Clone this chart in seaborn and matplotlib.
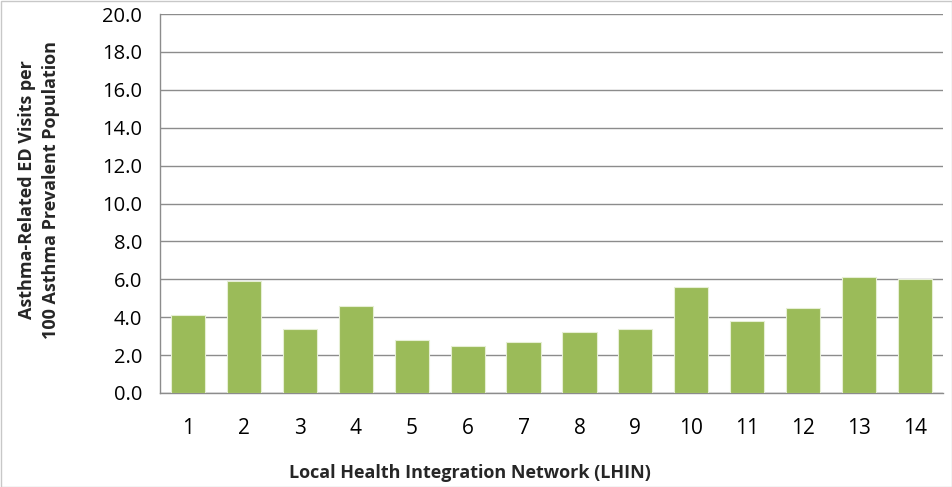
import matplotlib
matplotlib.use("Agg")
import matplotlib.pyplot as plt
import seaborn as sns
import pandas as pd
import numpy as np
from matplotlib.patches import Rectangle

lhin = [str(i) for i in range(1, 15)]
visits = [4.1, 5.9, 3.4, 4.6, 2.8, 2.5, 2.7, 3.2, 3.4, 5.6, 3.8, 4.5, 6.1, 6.0]
yticks = [0, 2, 4, 6, 8, 10, 12, 14, 16, 18, 20]

sns.set_theme(style="white")
plt.rcParams['font.family'] = ['Open Sans', 'DejaVu Sans']

df = pd.DataFrame({"LHIN": lhin, "Visits": visits})

fig = plt.figure(figsize=(9.53, 4.87), dpi=100)
ax = fig.add_axes([160/953, 1-393/487, (943-160)/953, (393-14)/487])

sns.barplot(data=df, x="LHIN", y="Visits", color="#9BBB59", saturation=1,
            width=0.61, edgecolor="#E6EFD4", linewidth=0.8, ax=ax, zorder=3)

ax.set_ylim(0, 20)
ax.set_xlim(-0.5, 13.5)
ax.set_yticks(yticks)
ax.set_yticklabels([f"{v:.1f}" for v in yticks], fontsize=14.5)
ax.yaxis.grid(True, color="#8C8C8C", linewidth=1.0, zorder=0)
ax.set_axisbelow(True)

ax.set_xticks(range(14))
ax.set_xticklabels(lhin, fontsize=15)
ax.set_xticks(np.arange(-0.5, 14, 1), minor=True)
ax.tick_params(axis='x', which='major', length=0, pad=18, labelcolor="black")
ax.tick_params(axis='x', which='minor', length=8, color="#8C8C8C", width=1, direction='out')
ax.tick_params(axis='y', which='major', length=8, color="#8C8C8C", width=1, direction='out',
               pad=5, labelcolor="black")

for s in ["top", "right"]:
    ax.spines[s].set_visible(False)
for s in ["left", "bottom"]:
    ax.spines[s].set_color("#8C8C8C")
    ax.spines[s].set_linewidth(1.0)

ax.set_xlabel("Local Health Integration Network (LHIN)", fontsize=13, fontweight="bold")
ax.xaxis.set_label_coords((470-160)/783, (393-473)/379)
ax.xaxis.label.set_va("center")
ax.set_ylabel("Asthma-Related ED Visits per\n100 Asthma Prevalent Population", fontsize=13,
              fontweight="bold", linespacing=1.4)
ax.yaxis.set_label_coords((39-160)/783, (393-190)/379)
ax.yaxis.label.set_va("center")

fig.patches.append(Rectangle((0.5/953, 0.5/487), 1-1/953, 1-1/487, transform=fig.transFigure,
                             fill=False, edgecolor="#C8C8C8", linewidth=1.0))

fig.savefig("out.png", dpi=100)
